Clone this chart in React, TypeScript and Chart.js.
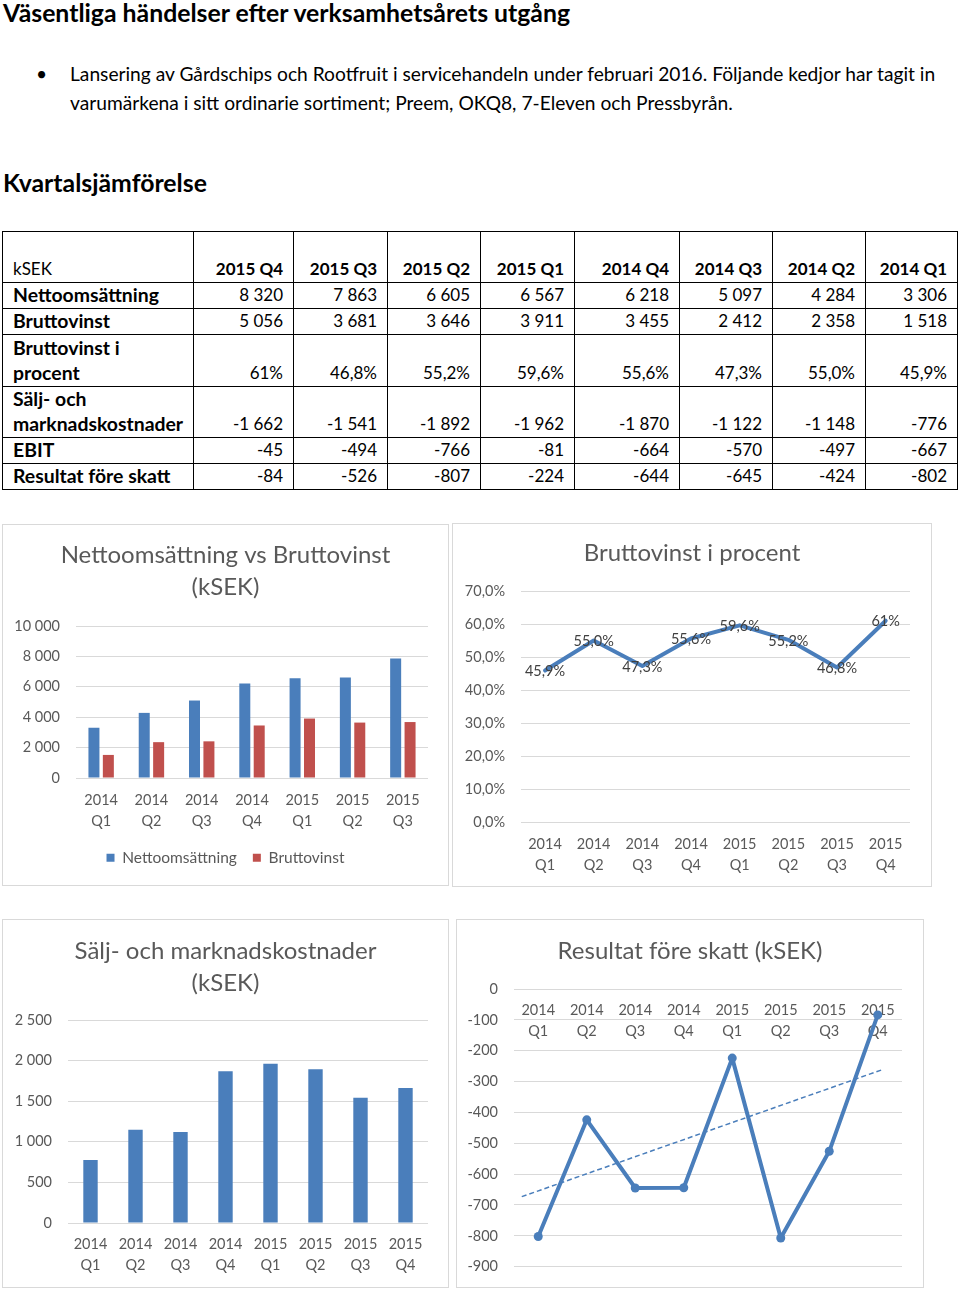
import React, { useEffect, useRef } from 'react';
import { Chart, registerables } from 'chart.js';

Chart.register(...registerables);

// ---------- data ----------
const quarters = ['2014 Q1', '2014 Q2', '2014 Q3', '2014 Q4', '2015 Q1', '2015 Q2', '2015 Q3', '2015 Q4'];
const nettoomsattning = [3306, 4284, 5097, 6218, 6567, 6605, 7863, 8320];
const bruttovinst = [1518, 2358, 2412, 3455, 3911, 3646, 3681, 5056];
const bruttovinstProcent = [45.9, 55.0, 47.3, 55.6, 59.6, 55.2, 46.8, 61];
const procentEtiketter = ['45,9%', '55,0%', '47,3%', '55,6%', '59,6%', '55,2%', '46,8%', '61%'];
const saljMarknadskostnader = [-776, -1148, -1122, -1870, -1962, -1892, -1541, -1662];
const ebit = [-667, -497, -570, -664, -81, -766, -494, -45];
const resultatForeSkatt = [-802, -424, -645, -644, -224, -807, -526, -84];
// dashed trend line of "Resultat före skatt" (category index, value)
const trendIndex = [-0.34, 7.12];
const trendValue = [-673, -260];
// chart 1 only shows the first seven quarters
const chart1Quarters = quarters.slice(0, 7);
const chart1Netto = nettoomsattning.slice(0, 7);
const chart1Brutto = bruttovinst.slice(0, 7);

// ---------- styles ----------
const FONT = 'Lato, "Open Sans", sans-serif';
const BLUE = '#4A7EBB';
const RED = '#C0504D';
const TEXT = '#595959';
const GRID = '#D9D9D9';

Chart.defaults.font.family = FONT;
Chart.defaults.color = TEXT;

const fmt = (n: number) => {
  const s = Math.abs(Math.round(n)).toString().replace(/\B(?=(\d{3})+(?!\d))/g, ' ');
  return (n < 0 ? '-' : '') + s;
};
const splitLabel = (q: string) => q.split(' ');

const titleOpts = (text: string | string[], top: number, bottom: number) => ({
  display: true,
  text,
  color: TEXT,
  font: { family: FONT, size: 24, weight: 'normal' as const, lineHeight: 32 / 24 },
  padding: { top, bottom },
});

const tickFont = { family: FONT, size: 14.5, lineHeight: 21 / 14.5 };

const xAxis = (padding: number, height: number | null, extra: any = {}) => ({
  grid: { display: false, drawTicks: false },
  border: { display: false },
  ticks: { color: TEXT, font: tickFont, padding, maxRotation: 0, minRotation: 0, autoSkip: false },
  afterFit: height == null ? undefined : (s: any) => { s.height = height; },
  ...extra,
});

const yAxis = (min: number, max: number, step: number, cb: (v: number) => string, padding: number, width: number) => ({
  min,
  max,
  position: 'left',
  grid: { color: GRID, lineWidth: 1, drawTicks: false },
  border: { display: false },
  ticks: {
    stepSize: step,
    color: TEXT,
    font: { family: FONT, size: 14.5, lineHeight: 0.5 },
    padding,
    callback: (v: any) => cb(Number(v)),
  },
  afterFit: (s: any) => { s.width = width; },
});

// empty right-hand spacer axis so the plot area ends where the reference does
const spacer = (width: number) => ({
  type: 'linear',
  position: 'right',
  display: true,
  grid: { display: false, drawTicks: false },
  border: { display: false },
  ticks: { display: false },
  afterFit: (s: any) => { s.width = width; },
});

const pointLabelsPlugin = (labels: string[]) => ({
  id: 'pointLabels',
  afterDatasetsDraw(chart: any) {
    const ctx = chart.ctx;
    const meta = chart.getDatasetMeta(0);
    ctx.save();
    ctx.font = `14.5px ${FONT}`;
    ctx.fillStyle = '#404040';
    ctx.textAlign = 'center';
    ctx.textBaseline = 'middle';
    meta.data.forEach((pt: any, i: number) => ctx.fillText(labels[i], pt.x, pt.y + 1));
    ctx.restore();
  },
});

const trendPlugin = {
  id: 'trend',
  afterDatasetsDraw(chart: any) {
    const { ctx, scales } = chart;
    const x = scales.x;
    const y = scales.y;
    ctx.save();
    ctx.strokeStyle = BLUE;
    ctx.lineWidth = 1.5;
    ctx.setLineDash([5, 3]);
    ctx.beginPath();
    ctx.moveTo(x.getPixelForValue(trendIndex[0]), y.getPixelForValue(trendValue[0]));
    ctx.lineTo(x.getPixelForValue(trendIndex[1]), y.getPixelForValue(trendValue[1]));
    ctx.stroke();
    ctx.restore();
  },
};

const common = { responsive: false, animation: false as const, devicePixelRatio: 1, events: [] as any[] };

const chart1Config = (): any => ({
  type: 'bar',
  data: {
    labels: chart1Quarters.map(splitLabel),
    datasets: [
      { label: 'Nettoomsättning', data: chart1Netto, yAxisID: 'y', backgroundColor: BLUE, categoryPercentage: 0.573, barPercentage: 0.764 },
      { label: 'Bruttovinst', data: chart1Brutto, yAxisID: 'y', backgroundColor: RED, categoryPercentage: 0.573, barPercentage: 0.764 },
    ],
  },
  options: {
    ...common,
    layout: { padding: { left: 0, right: 0, top: 0, bottom: 9.5 } },
    plugins: {
      title: titleOpts(['Nettoomsättning vs Bruttovinst', '(kSEK)'], 14, 23),
      legend: {
        position: 'bottom',
        labels: { boxWidth: 8, boxHeight: 8, padding: 16, color: TEXT, font: { family: FONT, size: 15.5 } },
      },
      tooltip: { enabled: false },
    },
    scales: {
      x: xAxis(11.5, 56),
      y: yAxis(0, 10000, 2000, fmt, 16, 73),
      pad: spacer(20),
    },
  },
});

const chart2Config = (): any => ({
  type: 'line',
  data: {
    labels: quarters.map(splitLabel),
    datasets: [
      {
        label: 'Bruttovinst i procent',
        data: bruttovinstProcent,
        yAxisID: 'y',
        borderColor: BLUE,
        borderWidth: 4,
        borderJoinStyle: 'round',
        borderCapStyle: 'round',
        pointRadius: 0,
        tension: 0,
        fill: false,
      },
    ],
  },
  options: {
    ...common,
    layout: { padding: { left: 0, right: 0, top: 0, bottom: 0 } },
    plugins: {
      title: titleOpts('Bruttovinst i procent', 13, 22),
      legend: { display: false },
      tooltip: { enabled: false },
    },
    scales: {
      x: xAxis(11.5, 64, { offset: true }),
      y: yAxis(0, 70, 10, (v) => `${v},0%`, 15.7, 67.7),
      pad: spacer(21),
    },
  },
  plugins: [pointLabelsPlugin(procentEtiketter)],
});

const chart3Config = (): any => ({
  type: 'bar',
  data: {
    labels: quarters.map(splitLabel),
    datasets: [
      {
        label: 'Sälj- och marknadskostnader',
        data: saljMarknadskostnader.map((v) => Math.abs(v)),
        yAxisID: 'y',
        backgroundColor: BLUE,
        categoryPercentage: 0.8,
        barPercentage: 0.4,
      },
    ],
  },
  options: {
    ...common,
    layout: { padding: { left: 0, right: 0, top: 0, bottom: 0 } },
    plugins: {
      title: titleOpts(['Sälj- och marknadskostnader', '(kSEK)'], 15, 21),
      legend: { display: false },
      tooltip: { enabled: false },
    },
    scales: {
      x: xAxis(10.5, 64),
      y: yAxis(0, 2500, 500, fmt, 16, 65),
      pad: spacer(20),
    },
  },
});

const chart4Config = (): any => ({
  type: 'line',
  data: {
    labels: quarters.map(splitLabel),
    datasets: [
      {
        label: 'Resultat före skatt',
        data: resultatForeSkatt,
        yAxisID: 'y',
        borderColor: BLUE,
        backgroundColor: BLUE,
        borderWidth: 4,
        borderJoinStyle: 'round',
        pointRadius: 4.5,
        pointBorderWidth: 0,
        pointBackgroundColor: BLUE,
        tension: 0,
        fill: false,
      },
    ],
  },
  options: {
    ...common,
    layout: { padding: { left: 0, right: 0, top: 0, bottom: 20.3 } },
    plugins: {
      title: titleOpts('Resultat före skatt (kSEK)', 15, 22),
      legend: { display: false },
      tooltip: { enabled: false },
    },
    scales: {
      y: yAxis(-900, 0, 100, (v) => fmt(v), 16, 57),
      pad: spacer(21),
      x: xAxis(10.5, null, { offset: true, position: { y: 0 } }),
    },
  },
  plugins: [trendPlugin],
});

function ChartBox(props: { left: number; top: number; width: number; height: number; config: () => any }) {
  const { left, top, width, height, config } = props;
  const ref = useRef<HTMLCanvasElement | null>(null);
  useEffect(() => {
    const chart = new Chart(ref.current as HTMLCanvasElement, config());
    return () => chart.destroy();
  }, []);
  return (
    <div
      style={{
        position: 'absolute',
        left,
        top,
        width,
        height,
        border: `1px solid ${GRID}`,
        boxSizing: 'border-box',
        background: '#fff',
      }}
    >
      <canvas ref={ref} width={width - 2} height={height - 2} style={{ display: 'block', width: width - 2, height: height - 2 }} />
    </div>
  );
}

// ---------- table ----------
const colEdges = [2, 193, 293, 387, 480, 574, 679, 772, 865, 957];
const rowEdges = [231, 282, 308, 334, 386, 437, 463, 489];

const tableRows: { label: string[]; values: string[] }[] = [
  { label: ['Nettoomsättning'], values: nettoomsattning.map(fmt) },
  { label: ['Bruttovinst'], values: bruttovinst.map(fmt) },
  { label: ['Bruttovinst i', 'procent'], values: procentEtiketter },
  { label: ['Sälj- och', 'marknadskostnader'], values: saljMarknadskostnader.map(fmt) },
  { label: ['EBIT'], values: ebit.map(fmt) },
  { label: ['Resultat före skatt'], values: resultatForeSkatt.map(fmt) },
];

function Cell(props: { r: number; c: number; lines: string[]; bold: boolean; align: 'left' | 'right'; size: number }) {
  const { r, c, lines, bold, align, size } = props;
  const left = colEdges[c];
  const top = rowEdges[r];
  const width = colEdges[c + 1] - left + 1;
  const height = rowEdges[r + 1] - top + 1;
  return (
    <div
      style={{
        position: 'absolute',
        left,
        top,
        width,
        height,
        border: '1px solid #000',
        boxSizing: 'border-box',
        display: 'flex',
        flexDirection: 'column',
        justifyContent: 'flex-end',
        alignItems: align === 'left' ? 'flex-start' : 'flex-end',
        padding: align === 'left' ? '0 0 1px 10px' : '0 10px 1px 0',
        fontWeight: bold ? 700 : 400,
        fontSize: size,
        lineHeight: '25px',
        whiteSpace: 'nowrap',
      }}
    >
      {lines.map((l, i) => (
        <div key={i}>{l}</div>
      ))}
    </div>
  );
}

function Table() {
  const header = quarters.slice().reverse();
  const cells: React.ReactNode[] = [];
  cells.push(<Cell key="h0" r={0} c={0} lines={['kSEK']} bold={false} align="left" size={17} />);
  header.forEach((h, i) =>
    cells.push(<Cell key={`h${i + 1}`} r={0} c={i + 1} lines={[h]} bold={true} align="right" size={17} />),
  );
  tableRows.forEach((row, ri) => {
    cells.push(<Cell key={`r${ri}`} r={ri + 1} c={0} lines={row.label} bold={true} align="left" size={19.4} />);
    row.values
      .slice()
      .reverse()
      .forEach((v, ci) =>
        cells.push(<Cell key={`r${ri}c${ci}`} r={ri + 1} c={ci + 1} lines={[v]} bold={false} align="right" size={17} />),
      );
  });
  return <>{cells}</>;
}

export default function App() {
  return (
    <div
      style={{
        position: 'absolute',
        left: 0,
        top: 0,
        width: 960,
        height: 1291,
        overflow: 'hidden',
        background: '#fff',
        fontFamily: FONT,
        color: '#000',
      }}
    >
      <div style={{ position: 'absolute', left: 3, top: -1, fontSize: 24.8, fontWeight: 700, lineHeight: '28px', whiteSpace: 'nowrap' }}>
        Väsentliga händelser efter verksamhetsårets utgång
      </div>
      <div style={{ position: 'absolute', left: 36, top: 59, fontSize: 19.2, lineHeight: '29px' }}>•</div>
      <div style={{ position: 'absolute', left: 70, top: 59, fontSize: 19.2, lineHeight: '29px', whiteSpace: 'nowrap' }}>
        Lansering av Gårdschips och Rootfruit i servicehandeln under februari 2016. Följande kedjor har tagit in
        <br />
        varumärkena i sitt ordinarie sortiment; Preem, OKQ8, 7-Eleven och Pressbyrån.
      </div>
      <div style={{ position: 'absolute', left: 3, top: 169, fontSize: 24.8, fontWeight: 700, lineHeight: '28px', whiteSpace: 'nowrap' }}>
        Kvartalsjämförelse
      </div>
      <Table />
      <ChartBox left={2} top={524} width={447} height={362} config={chart1Config} />
      <ChartBox left={452} top={523} width={480} height={364} config={chart2Config} />
      <ChartBox left={2} top={919} width={447} height={369} config={chart3Config} />
      <ChartBox left={456} top={919} width={468} height={369} config={chart4Config} />
    </div>
  );
}
